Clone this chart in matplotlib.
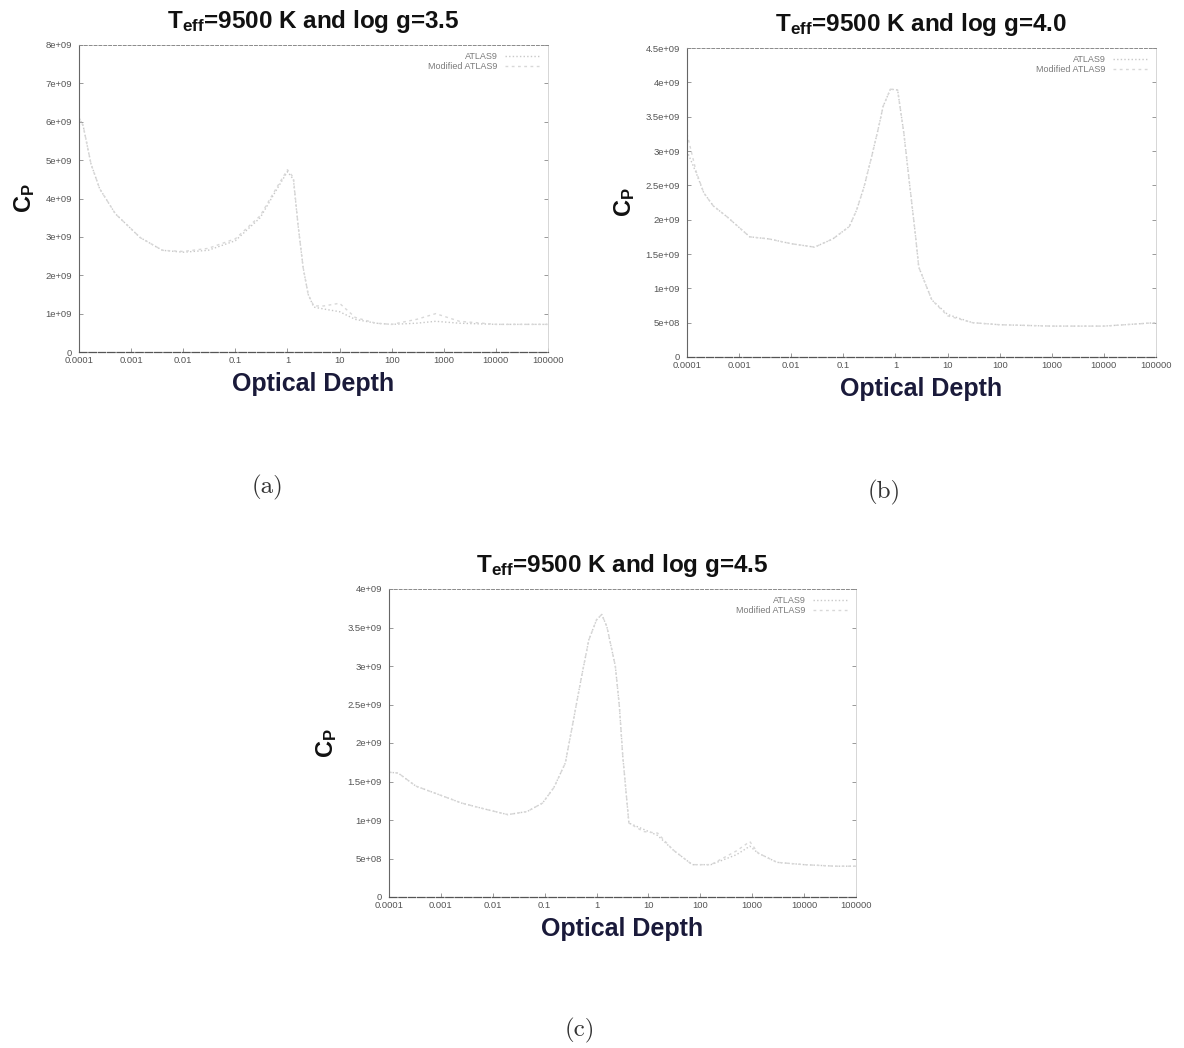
import matplotlib
matplotlib.use("Agg")
import matplotlib.pyplot as plt

plt.rcParams['font.family'] = ['Liberation Sans', 'DejaVu Sans']
plt.rcParams['mathtext.fontset'] = 'custom'
plt.rcParams['mathtext.bf'] = 'Liberation Sans:bold'
plt.rcParams['mathtext.rm'] = 'Liberation Sans:bold'
plt.rcParams['mathtext.it'] = 'Liberation Sans:bold'

# Optical depth grid points and specific heat C_P for each model
tau_a = [1e-4, 1.2e-4, 1.7e-4, 2.5e-4, 5e-4, 1.5e-3, 4e-3, 1e-2, 3e-2, 0.1, 0.3, 0.6,
         1.0, 1.3, 1.6, 2.0, 2.5, 3.2, 5, 10, 20, 50, 100, 300, 700, 2000, 1e4, 1e5]
cp_a_atlas = [6.1e9, 5.9e9, 4.9e9, 4.25e9, 3.6e9, 2.98e9, 2.65e9, 2.6e9, 2.65e9, 2.9e9,
              3.5e9, 4.2e9, 4.7e9, 4.5e9, 3.3e9, 2.2e9, 1.5e9, 1.17e9, 1.12e9, 1.05e9,
              0.85e9, 0.75e9, 0.72e9, 0.75e9, 0.8e9, 0.75e9, 0.72e9, 0.72e9]
cp_a_mod = [6.1e9, 5.9e9, 4.9e9, 4.25e9, 3.6e9, 2.98e9, 2.65e9, 2.62e9, 2.7e9, 2.95e9,
            3.55e9, 4.25e9, 4.75e9, 4.55e9, 3.3e9, 2.2e9, 1.5e9, 1.2e9, 1.2e9, 1.27e9,
            0.9e9, 0.75e9, 0.72e9, 0.85e9, 1.0e9, 0.8e9, 0.72e9, 0.72e9]

tau_b = [1e-4, 1.5e-4, 2.1e-4, 3.2e-4, 5.9e-4, 1.6e-3, 3.7e-3, 1e-2, 2.8e-2, 6.3e-2, 0.13,
         0.18, 0.25, 0.35, 0.48, 0.58, 0.8, 1.1, 1.45, 1.86, 2.4, 2.8, 5, 10, 30, 100,
         1000, 1e4, 1e5]
cp_b_atlas = [3.0e9, 2.68e9, 2.39e9, 2.2e9, 2.04e9, 1.75e9, 1.72e9, 1.65e9, 1.6e9, 1.72e9,
              1.9e9, 2.14e9, 2.48e9, 2.92e9, 3.36e9, 3.65e9, 3.9e9, 3.89e9, 3.26e9, 2.53e9,
              1.8e9, 1.31e9, 0.83e9, 0.62e9, 0.5e9, 0.47e9, 0.45e9, 0.45e9, 0.5e9]
cp_b_mod = [3.25e9, 2.7e9, 2.39e9, 2.2e9, 2.04e9, 1.75e9, 1.72e9, 1.65e9, 1.6e9, 1.72e9,
            1.9e9, 2.14e9, 2.48e9, 2.92e9, 3.36e9, 3.65e9, 3.9e9, 3.89e9, 3.26e9, 2.53e9,
            1.8e9, 1.31e9, 0.83e9, 0.6e9, 0.5e9, 0.47e9, 0.45e9, 0.45e9, 0.5e9]

tau_c = [1e-4, 1.5e-4, 3.3e-4, 1.1e-3, 2.5e-3, 8.3e-3, 1.95e-2, 4.6e-2, 9.1e-2, 0.15, 0.25,
         0.35, 0.5, 0.71, 1.0, 1.26, 1.58, 2.3, 2.75, 3.2, 4.2, 8, 15, 30, 70, 160,
         500, 900, 1300, 3000, 1e4, 4e4, 1e5]
cp_c_atlas = [1.62e9, 1.61e9, 1.44e9, 1.31e9, 1.22e9, 1.13e9, 1.07e9, 1.11e9, 1.22e9, 1.42e9,
              1.74e9, 2.26e9, 2.82e9, 3.34e9, 3.6e9, 3.67e9, 3.51e9, 3.0e9, 2.48e9, 1.83e9,
              0.96e9, 0.88e9, 0.8e9, 0.61e9, 0.42e9, 0.42e9, 0.55e9, 0.66e9, 0.57e9, 0.45e9,
              0.42e9, 0.40e9, 0.40e9]
cp_c_mod = [1.62e9, 1.61e9, 1.44e9, 1.31e9, 1.22e9, 1.13e9, 1.07e9, 1.11e9, 1.22e9, 1.42e9,
            1.74e9, 2.26e9, 2.82e9, 3.34e9, 3.6e9, 3.67e9, 3.51e9, 3.0e9, 2.48e9, 1.83e9,
            0.96e9, 0.85e9, 0.83e9, 0.61e9, 0.42e9, 0.42e9, 0.6e9, 0.72e9, 0.57e9, 0.45e9,
            0.42e9, 0.40e9, 0.40e9]

x_ticks = [1e-4, 1e-3, 1e-2, 1e-1, 1, 10, 100, 1000, 1e4, 1e5]
x_ticklabels = ["0.0001", "0.001", "0.01", "0.1", "1", "10", "100", "1000", "10000", "100000"]

y_ticks_a = [0, 1e9, 2e9, 3e9, 4e9, 5e9, 6e9, 7e9, 8e9]
y_labels_a = ["0", "1e+09", "2e+09", "3e+09", "4e+09", "5e+09", "6e+09", "7e+09", "8e+09"]
y_ticks_b = [0, 5e8, 1e9, 1.5e9, 2e9, 2.5e9, 3e9, 3.5e9, 4e9, 4.5e9]
y_labels_b = ["0", "5e+08", "1e+09", "1.5e+09", "2e+09", "2.5e+09", "3e+09", "3.5e+09",
              "4e+09", "4.5e+09"]
y_ticks_c = [0, 5e8, 1e9, 1.5e9, 2e9, 2.5e9, 3e9, 3.5e9, 4e9]
y_labels_c = ["0", "5e+08", "1e+09", "1.5e+09", "2e+09", "2.5e+09", "3e+09", "3.5e+09",
              "4e+09"]

titles = [r"$\mathbf{T_{eff}}$=9500 K and log g=3.5",
          r"$\mathbf{T_{eff}}$=9500 K and log g=4.0",
          r"$\mathbf{T_{eff}}$=9500 K and log g=4.5"]
captions = ["(a)", "(b)", "(c)"]
caption_pos = [(267, 487), (884, 492), (580, 1030)]

fig = plt.figure(figsize=(11.84, 10.48), dpi=100)
W, H = 1184.0, 1048.0


def px_axes(left, top, right, bottom):
    return fig.add_axes([left / W, 1 - bottom / H, (right - left) / W, (bottom - top) / H])


panels = [
    (px_axes(79, 45, 548, 352), tau_a, cp_a_atlas, cp_a_mod, y_ticks_a, y_labels_a, 8e9),
    (px_axes(687, 48, 1156, 357), tau_b, cp_b_atlas, cp_b_mod, y_ticks_b, y_labels_b, 4.5e9),
    (px_axes(389, 589, 856, 897), tau_c, cp_c_atlas, cp_c_mod, y_ticks_c, y_labels_c, 4e9),
]

for i, (ax, tau, cp1, cp2, yt, yl, ymax) in enumerate(panels):
    ax.plot(tau, cp1, color="#c8c8c8", lw=1.0, ls=(0, (1, 1.6)), label="ATLAS9")
    ax.plot(tau, cp2, color="#d8d8d8", lw=1.0, ls=(0, (2, 2.5)), label="Modified ATLAS9")
    ax.set_xscale("log")
    ax.set_xlim(1e-4, 1e5)
    ax.set_ylim(0, ymax)
    ax.set_xticks(x_ticks)
    ax.set_xticklabels(x_ticklabels)
    ax.minorticks_off()
    ax.set_yticks(yt)
    ax.set_yticklabels(yl)
    ax.tick_params(axis="both", direction="in", length=3, width=0.6, color="#888888",
                   labelsize=6.8, labelcolor="#555555", right=True, top=False, pad=3)
    ax.tick_params(axis="y", pad=5)
    ax.spines["left"].set_color("#666666")
    ax.spines["left"].set_linewidth(0.8)
    ax.spines["bottom"].set_color("#555555")
    ax.spines["bottom"].set_linestyle((0, (6, 1.5)))
    ax.spines["bottom"].set_linewidth(0.9)
    ax.spines["top"].set_color("#8a8a8a")
    ax.spines["top"].set_linestyle((0, (3, 2)))
    ax.spines["top"].set_linewidth(0.7)
    ax.spines["right"].set_color("#d0d0d0")
    ax.spines["right"].set_linewidth(0.6)
    ax.set_title(titles[i], fontsize=17.5, fontweight="bold", color="#111111", pad=12)
    ax.set_xlabel("Optical Depth", fontsize=18, fontweight="bold", color="#1a1a3a",
                  labelpad=5)
    ax.set_ylabel(r"C$_\mathbf{P}$", fontsize=17, fontweight="bold", color="#111111",
                  labelpad=6)
    leg = ax.legend(loc="upper right", fontsize=6.5, frameon=False, markerfirst=False,
                    handlelength=4, borderaxespad=0.4, labelspacing=0.05)
    for t in leg.get_texts():
        t.set_color("#7a7a7a")

for cap, (cx, cy) in zip(captions, caption_pos):
    fig.text(cx / W, 1 - cy / H, cap, family="cmr10", fontsize=18, ha="center",
             va="center", color="#333333")

fig.savefig("out.png", dpi=100, facecolor="white")
